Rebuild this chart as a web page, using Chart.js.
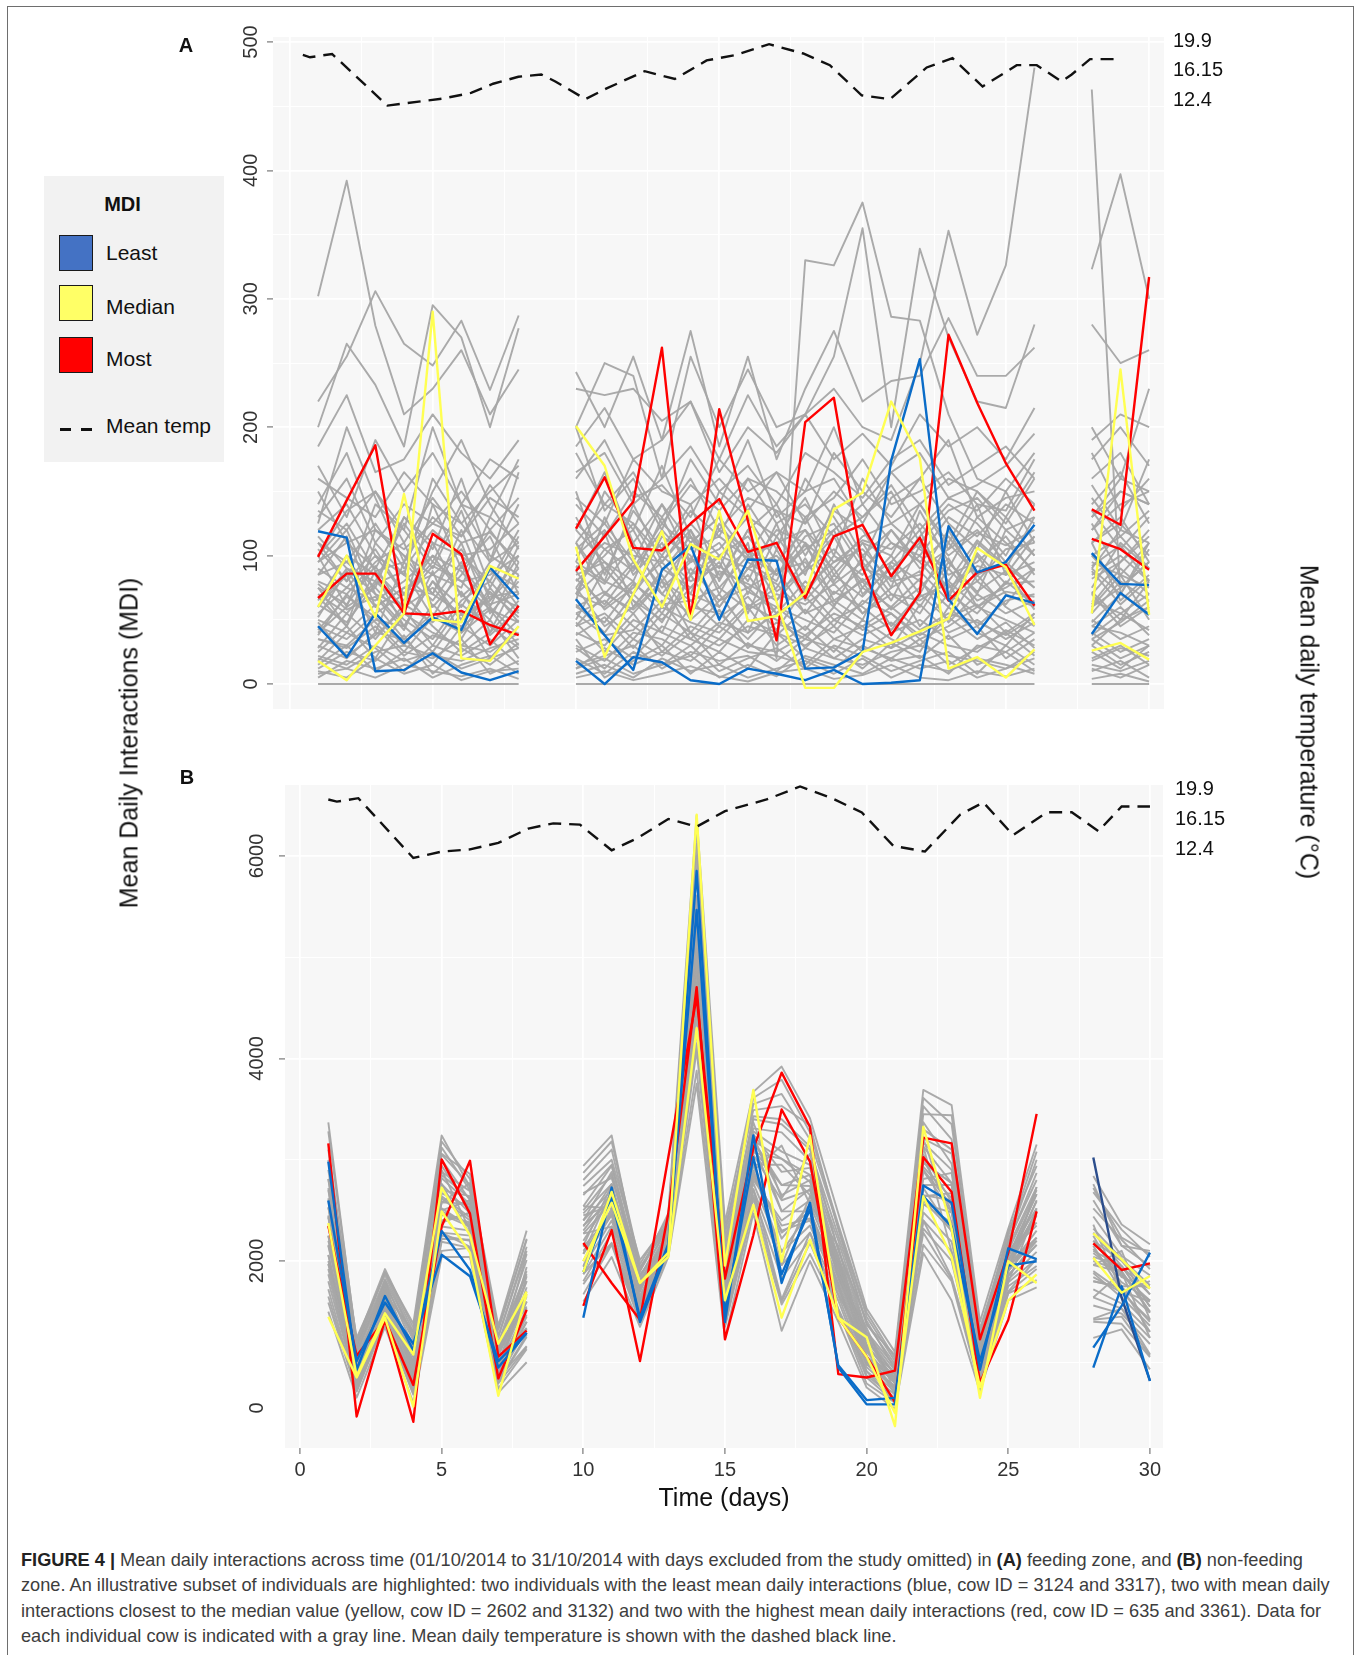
<!DOCTYPE html>
<html><head><meta charset="utf-8">
<script src="https://cdn.jsdelivr.net/npm/chart.js@4.4.0/dist/chart.umd.min.js"></script>
<style>
html,body{margin:0;padding:0;background:#fff;}
body{width:1363px;height:1655px;position:relative;overflow:hidden;font-family:"Liberation Sans",Arial,sans-serif;}
#frame{position:absolute;left:7px;top:6px;width:1347px;height:1700px;border:1px solid #6e6e6e;box-sizing:border-box;}
canvas{position:absolute;left:0;}
#cA{top:0;}
#cB{top:730px;}
.plab{position:absolute;font-weight:bold;font-size:20px;color:#111;transform:translate(-50%,-50%);}
.vtitle{position:absolute;font-size:25px;color:#111;white-space:nowrap;}
#ytitle{left:129px;top:743px;transform:translate(-50%,-50%) rotate(-90deg);}
#y2title{left:1309px;top:722px;transform:translate(-50%,-50%) rotate(90deg);}
#legend{position:absolute;left:44px;top:176px;width:180px;height:286px;background:#f2f2f2;}
#legend .ttl{position:absolute;left:0;width:157px;top:17px;text-align:center;font-weight:bold;font-size:20px;color:#111;}
#legend .sw{position:absolute;left:15px;width:32px;height:34px;border:1.8px solid #1a1a1a;}
#legend .lb{position:absolute;left:62px;font-size:21px;color:#111;transform:translateY(-50%);}
#legend .dash{position:absolute;top:252px;height:3px;width:11px;background:#111;}
#caption{position:absolute;left:21px;top:1548px;font-size:18.2px;line-height:25.3px;color:#3d3d3d;white-space:nowrap;}
#caption b{color:#222;}
</style>
</head>
<body>
<div id="frame"></div>
<canvas id="cA" width="1363" height="730"></canvas>
<canvas id="cB" width="1363" height="800"></canvas>
<div class="plab" style="left:186px;top:45px;">A</div>
<div class="plab" style="left:187px;top:777px;">B</div>
<div class="vtitle" id="ytitle">Mean Daily Interactions (MDI)</div>
<div class="vtitle" id="y2title">Mean daily temperature (°C)</div>
<div id="legend">
  <div class="ttl">MDI</div>
  <div class="sw" style="top:59px;background:#4472c4;"></div><div class="lb" style="top:77px;">Least</div>
  <div class="sw" style="top:109px;background:#ffff66;"></div><div class="lb" style="top:131px;">Median</div>
  <div class="sw" style="top:161px;background:#ff0000;"></div><div class="lb" style="top:183px;">Most</div>
  <div class="dash" style="left:16px;"></div><div class="dash" style="left:37px;"></div>
  <div class="lb" style="top:250px;">Mean temp</div>
</div>
<div id="caption">
<div><b>FIGURE 4 |</b> Mean daily interactions across time (01/10/2014 to 31/10/2014 with days excluded from the study omitted) in <b>(A)</b> feeding zone, and <b>(B)</b> non-feeding</div>
<div>zone. An illustrative subset of individuals are highlighted: two individuals with the least mean daily interactions (blue, cow ID = 3124 and 3317), two with mean daily</div>
<div>interactions closest to the median value (yellow, cow ID = 2602 and 3132) and two with the highest mean daily interactions (red, cow ID = 635 and 3361). Data for</div>
<div>each individual cow is indicated with a gray line. Mean daily temperature is shown with the dashed black line.</div>
</div>
<script>
// ---------------- DATA ----------------
// study days (days 9 and 27 excluded)
const days = [1,2,3,4,5,6,7,8,10,11,12,13,14,15,16,17,18,19,20,21,22,23,24,25,26,28,29,30];

// Axis ticks
const xMajorTicks = [0,5,10,15,20,25,30];
const xMinorTicks = [2.5,7.5,12.5,17.5,22.5,27.5];
const yMajorTicksA = [0,100,200,300,400,500];
const yMinorTicksA = [50,150,250,350,450];
const yMajorTicksB = [2000,4000,6000];
const yMinorTicksB = [1000,3000,5000];
const yZeroLabelValueB = 548;          // where panel B prints its "0" label
const tempTicks = [12.4,16.15,19.9];
const tempTickLabels = ['12.4','16.15','19.9'];

// Panel A (feeding zone) highlighted cows
const redA1    = [99,143,186,55,117,101,31,61, 88,115,142,262,51,214,127,34,204,223,91,38,71,272,219,172,135, 136,124,317];
const redA2    = [67,86,86,55,54,57,46,38, 121,161,106,104,125,144,103,110,67,115,124,84,114,65,87,93,61, 113,105,89];
const blueA1   = [119,114,10,11,24,9,3,10, 66,38,11,89,108,50,97,96,12,13,25,174,253,66,39,69,63, 102,78,77];
const blueA2   = [45,21,55,32,52,42,91,66, 18,0,21,17,3,0,12,8,3,11,0,1,3,123,87,95,124, 39,71,54];
const yellowA1 = [60,100,52,148,50,48,92,82, 201,170,97,60,109,97,135,64,-3,-3,25,32,41,51,106,91,46, 55,245,54];
const yellowA2 = [18,3,30,55,290,20,18,45, 107,21,70,119,50,135,49,53,71,136,149,220,176,12,21,5,27, 26,32,19];

// Panel A other cows (gray)
const grayA = [
 [0,0,0,0,0,0,0,0, 0,0,0,0,0,0,0,0,0,0,0,0,0,0,0,0,0, 0,0,0],
 [8,12,5,15,10,6,12,4, 5,10,3,8,14,6,2,9,12,4,7,15,5,3,10,6,12, 4,8,2],
 [22,15,30,18,25,12,20,28, 15,22,30,12,25,18,22,10,28,20,15,25,30,22,18,12,20, 15,10,18],
 [35,28,45,22,38,30,25,40, 30,18,40,35,22,45,30,25,38,20,35,28,40,30,25,42,30, 35,20,30],
 [50,40,62,35,55,45,60,38, 45,55,35,60,48,40,62,50,38,55,45,60,42,55,48,38,52, 45,60,38],
 [70,55,80,60,75,50,68,72, 60,72,55,80,65,75,58,70,62,78,55,70,65,80,60,72,68, 65,55,70],
 [90,75,100,70,95,80,85,100, 85,95,70,100,80,92,75,88,95,70,90,82,100,75,92,85,95, 85,100,80],
 [110,95,125,90,120,100,105,125, 100,120,90,125,105,115,98,110,120,95,112,105,125,100,118,108,120, 110,125,100],
 [130,160,110,140,125,150,120,145, 140,115,150,130,160,120,145,135,125,150,130,155,120,145,135,160,140, 130,150,140],
 [185,225,165,175,210,180,160,190, 185,215,175,190,220,165,200,180,210,175,195,170,210,185,200,175,215, 190,210,200],
 [302,392,279,210,230,260,210,245, 243,200,255,190,275,185,255,175,230,275,220,236,240,285,240,240,262, 280,250,260],
 [220,255,306,265,248,283,229,287, 200,250,240,160,255,200,245,200,210,230,200,190,250,353,272,326,480, 463,70,110],
 [200,265,233,185,295,270,200,277, 230,225,230,205,220,175,225,185,210,255,355,200,339,270,220,215,280, 323,397,300],
 [60,85,40,95,70,110,55,80, 110,70,95,60,120,85,105,65,90,115,75,100,70,110,85,95,75, 90,70,105],
 [95,120,70,60,140,90,115,70, 65,130,85,110,70,125,95,80,130,85,110,75,135,95,70,120,100, 70,95,120],
 [40,60,75,50,35,65,80,55, 75,45,60,85,50,70,40,90,55,65,80,45,70,50,85,60,45, 60,85,50],
 [25,45,20,55,40,30,50,20, 40,30,55,25,45,35,60,30,45,25,50,35,25,60,40,30,55, 50,35,45],
 [150,110,90,130,105,160,95,140, 120,165,110,140,95,150,130,115,145,100,160,125,140,110,150,130,165, 155,120,175],
 [15,30,10,25,20,35,8,18, 20,8,25,15,30,10,20,28,12,30,22,10,18,25,8,30,15, 25,12,30],
 [80,70,95,110,60,85,120,90, 130,90,105,75,95,110,80,125,70,100,85,120,95,70,110,90,130, 100,75,95],
 [120,140,100,85,160,125,95,165, 95,150,120,170,115,90,140,105,160,130,95,145,160,125,105,150,110, 140,165,125],
 [45,35,55,70,45,25,40,65, 55,65,45,30,60,55,35,60,50,40,65,55,35,45,60,50,40, 30,50,60],
 [65,100,85,45,80,60,95,110, 80,100,125,90,75,100,115,85,105,120,70,90,110,85,95,115,85, 75,110,90],
 [105,80,140,120,90,135,75,115, 150,85,135,105,140,80,120,140,100,135,120,85,115,140,125,100,140, 120,140,150],
 [170,130,190,150,180,140,175,160, 165,180,140,160,185,150,170,140,180,165,145,175,190,155,170,185,160, 175,200,170],
 [30,20,40,35,15,45,30,50, 25,35,20,45,35,25,50,40,30,45,25,40,50,35,45,20,35, 40,25,35],
 [55,75,65,80,100,70,50,95, 70,60,80,55,90,65,75,55,80,60,100,70,55,90,65,75,90, 55,80,65],
 [140,180,120,105,125,115,145,130, 180,140,165,125,155,135,160,150,130,145,175,140,150,165,140,135,175, 160,180,140],
 [10,5,20,8,15,3,10,12, 8,15,5,20,10,15,5,12,18,8,20,5,15,10,20,15,8, 10,18,5],
 [85,115,60,75,85,105,70,60, 95,80,70,115,100,60,90,100,75,95,105,80,85,120,80,105,110, 95,85,75],
 [60,90,70,45,80,50,90,60, 110,80,140,95,120,70,110,20,330,326,375,286,283,210,160,150,180, 120,150,140],
 [100,135,150,120,200,140,130,175, 200,135,160,120,175,140,190,130,150,200,140,165,180,145,155,170,195, 200,160,230],
 [125,200,145,95,150,190,140,105, 160,190,145,155,130,175,150,165,125,180,150,130,160,190,130,145,150, 180,135,160],
 [75,45,110,85,65,95,40,85, 50,90,65,40,85,100,60,75,110,65,50,95,80,60,100,70,60, 110,65,85],
 [18,40,28,10,30,22,35,15, 35,5,18,30,8,25,12,40,20,12,30,18,22,8,30,25,10, 20,30,15],
 [100,60,120,100,70,120,65,100, 125,105,120,80,110,130,70,115,85,140,100,120,90,105,140,85,115, 90,120,110],
 [28,55,35,62,48,72,38,58, 62,40,70,48,85,52,68,42,75,50,62,85,45,70,55,80,62, 48,70,55],
 [75,62,92,55,110,68,88,75, 92,78,110,70,98,82,120,72,88,105,80,95,120,68,102,78,105, 82,95,115],
 [12,25,18,38,8,28,15,32, 28,12,35,22,40,15,32,18,35,28,12,32,20,38,15,25,40, 18,28,22],
 [115,90,80,125,95,140,100,85, 105,125,95,140,110,130,100,135,90,120,140,110,100,130,115,140,125, 135,105,130],
 [42,68,52,30,62,40,75,48, 45,70,58,80,40,65,85,55,68,45,75,60,82,48,70,55,65, 72,50,80],
 [62,48,78,88,52,92,62,70, 88,58,75,95,70,60,90,78,55,85,68,92,60,95,72,88,58, 62,90,70],
 [95,110,120,100,85,75,130,110, 75,105,88,120,95,105,130,95,120,80,110,100,140,105,120,95,115, 110,130,95],
 [20,12,25,30,22,18,28,35, 12,28,15,25,18,35,25,22,15,35,28,20,35,15,28,40,22, 30,15,25],
 [52,88,60,75,70,55,65,90, 70,90,65,50,75,95,55,105,65,90,55,75,88,65,80,62,90, 60,75,95],
 [135,120,150,110,145,115,155,125, 110,140,125,100,135,115,160,125,140,115,130,150,110,135,145,120,130, 145,115,135],
 [35,30,50,45,25,55,20,45, 48,25,50,40,30,48,40,55,28,50,38,48,30,52,35,48,28, 45,40,30],
 [85,95,75,130,110,100,80,120, 120,95,80,130,85,120,105,85,115,125,90,110,95,115,85,130,100, 125,85,110],
 [5,18,12,20,5,15,22,8, 12,20,8,15,22,5,15,6,22,15,8,20,12,18,5,12,25, 12,5,15],
 [68,45,88,65,92,80,58,48, 82,62,92,70,55,88,78,65,98,62,82,58,75,98,60,78,80, 88,62,82],
 [100,125,88,95,130,110,118,95, 90,110,100,95,125,100,90,120,110,90,115,125,105,90,130,110,88, 100,115,90],
 [48,22,38,58,30,62,45,28, 38,52,28,55,40,30,45,38,58,35,45,28,62,40,50,35,48, 38,55,42],
 [160,145,130,165,140,125,150,170, 145,125,175,150,140,160,135,165,150,160,125,165,140,160,150,125,160, 130,160,150],
 [78,58,68,42,88,35,72,52, 60,48,78,62,65,45,72,60,42,72,60,42,68,78,45,65,70, 70,45,60],
 [110,80,105,70,100,88,60,108, 70,118,60,88,115,75,100,85,108,78,95,65,108,80,112,92,75, 92,108,80],
 [38,70,48,25,52,40,58,30, 55,38,42,65,35,58,28,48,35,60,42,55,38,52,62,40,55, 35,48,65]
];

// Panel B (non-feeding zone) highlighted cows
const redB1    = [3162,464,1419,412,3003,2468,840,1517, 1556,2305,1012,2468,4704,1226,2254,3496,2982,1440,1055,605,3025,2682,798,1419,2490, 2174,1911,1977];
const redB2    = [2348,1063,1419,776,2340,2990,1055,1312, 2177,1783,1419,3025,4610,1826,3111,3860,3325,883,849,918,3218,3162,1226,2082,3453, null,null,null];
const blueB1   = [2982,926,1654,1119,2297,1911,947,1290, 1440,2725,1397,2125,5852,1397,3239,1783,2575,948,584,584,2746,2575,926,2125,2018, 946,1750,815];
const blueB2   = [2597,1012,1590,1183,2061,1850,1012,1290, 1890,2618,1440,2168,5466,1483,3025,1868,2511,969,626,648,2639,2339,1012,1954,1997, 1144,1556,2082];
const navyDaysB = [28,29,30];
const navyB    = [3021,1638,815];
const yellowB1 = [2374,862,1483,1076,2725,2254,1183,1697, 1890,2682,1783,2082,6408,1954,3689,1995,3239,1440,1247,369,3325,2318,648,1997,1783, 2273,2016,1727];
const yellowB2 = [1449,849,1440,562,2489,2082,669,1676, 1997,2575,1783,2040,4300,1611,2554,1440,2211,1440,1055,498,2639,2040,755,1611,1868, 2033,1687,1852];

// Panel B other cows (gray)
const grayB = [
 [3280,1210,1920,1340,3180,2810,1360,2300, 2870,3180,1970,2430,6270,2270,3610,3790,3270,2360,1490,1040,3610,3350,1330,2250,3080, 2680,2310,2040],
 [3000,1240,1860,1260,3060,2860,1260,2140, 2740,3000,2010,2380,6000,2320,3490,3530,3340,2310,1370,1070,3450,3440,1260,2290,2940, 2760,2150,2100],
 [2810,1120,1770,1220,2880,2690,1190,2010, 2540,2940,1830,2360,5600,2090,3310,3270,2990,2200,1300,960,3210,3060,1190,2140,2730, 2440,2050,1860],
 [2620,1080,1740,1090,2820,2560,1160,1800, 2470,2760,1800,2300,5470,1920,3250,2880,2920,2040,1260,880,3130,2770,1160,2040,2660, 2200,2000,1670],
 [2530,1020,1650,1130,2700,2640,1050,1800, 2340,2760,1700,2320,5210,1920,3070,3010,2780,2040,1140,900,2970,2770,1060,2070,2520, 2200,1840,1730],
 [2340,960,1680,970,2640,2430,1090,1600, 2270,2580,1730,2230,5080,1750,3130,2490,2710,1880,1180,790,2890,2480,1090,1930,2450, 1960,1890,1490],
 [2250,870,1620,930,2520,2340,980,1600, 2140,2460,1630,2230,4810,1630,2950,2220,2560,1880,1060,740,2720,2290,990,1930,2300, 1800,1740,1490],
 [2060,900,1560,850,2460,2380,910,1470, 2000,2520,1590,2170,4680,1690,2830,2350,2420,1780,980,760,2560,2380,920,1860,2160, 1880,1640,1360],
 [1970,840,1500,850,2340,2300,880,1400, 1940,2400,1520,2170,4410,1580,2770,2090,2350,1720,950,710,2480,2190,880,1820,2090, 1720,1580,1300],
 [1870,770,1440,760,2220,2210,810,1270, 1800,2280,1450,2130,4150,1460,2650,1830,2210,1610,870,650,2320,2000,810,1750,1950, 1560,1480,1180],
 [1590,710,1400,680,2100,2130,740,1130, 1670,2160,1390,2080,3880,1350,2530,1570,2070,1510,790,600,2160,1800,750,1680,1810, 1400,1380,1050],
 [2720,840,1710,1050,2940,2510,1120,1670, 2400,2880,1760,2280,5340,1810,3190,2750,2850,1940,1220,820,3050,2580,1120,2000,2590, 2040,1950,1550],
 [2160,1020,1530,1170,2580,2560,950,1940, 2200,2640,1560,2260,4940,1980,2890,3140,2560,2150,1020,850,2810,2870,950,2110,2380, 2360,1690,1800],
 [2440,930,1800,890,2760,2260,1190,1540, 2540,2520,1870,2190,5610,1690,3370,2620,3060,1830,1340,710,3210,2380,1230,1890,2730, 1960,2100,1420],
 [1970,990,1590,1010,2400,2470,1020,1340, 2070,2700,1660,2210,4550,1860,3010,1960,2640,1990,1100,790,2640,2670,1020,1970,2230, 2120,1790,1610],
 [1720,720,1470,700,2280,2140,840,1160, 1870,2180,1490,2090,4280,1370,2710,1620,2280,1530,910,610,2400,1840,850,1700,2020, 1430,1530,1080],
 [2530,1050,1680,1300,3000,2600,1090,2070, 2670,2820,1940,2340,5870,2040,3430,3400,3130,2100,1410,930,3370,2960,1300,2180,2870, 2520,2210,1920],
 [2250,960,1740,970,2580,2770,910,1740, 2270,2340,1800,2150,5080,1520,3250,2490,2490,1670,1140,680,3130,2090,1090,1790,2520, 1640,1890,1240],
 [3370,1180,1890,1380,3240,2730,1330,2210, 2940,3240,1900,2470,6400,2380,3670,3920,3410,2470,1530,1100,3690,3540,1400,2320,3150, 2840,2360,2165],
 [1500,650,1350,600,2040,2040,700,1000, 1600,2040,1350,2040,3750,1230,2470,1310,2000,1400,750,540,2080,1610,710,1610,1740, 1240,1325,930],
 [2060,810,1560,810,2460,2340,880,1400, 2000,2460,1490,2210,4680,1580,2890,2090,2490,1780,980,760,2560,2480,920,1860,2160, 1800,1740,1300],
 [2810,990,1620,1090,2760,2470,1160,1870, 2400,2700,1700,2300,5470,1860,3190,3010,2850,1990,1220,880,2970,2770,1160,2040,2660, 2280,1950,1670],
 [3100,1150,1890,1300,3120,2700,1320,2220, 2800,3100,1920,2400,6120,2200,3550,3650,3200,2330,1450,1010,3530,3200,1290,2200,3000, 2720,2230,2070],
 [2700,1100,1800,1150,2850,2620,1180,1900, 2500,2850,1850,2330,5540,2000,3280,3080,2950,2120,1280,920,3170,2900,1180,2100,2700, 2320,2020,1760],
 [2430,1000,1660,1050,2670,2530,1070,1700, 2300,2670,1720,2270,5150,1840,3100,2750,2740,1960,1160,850,2930,2620,1080,2000,2480, 2080,1860,1610],
 [2150,880,1590,890,2490,2360,950,1530, 2070,2490,1610,2200,4750,1660,2890,2280,2490,1830,1020,750,2640,2330,950,1900,2230, 1840,1690,1420],
 [1920,800,1470,800,2280,2250,840,1330, 1870,2340,1480,2150,4280,1520,2710,1960,2280,1660,910,680,2400,2090,850,1790,2020, 1640,1530,1240],
 [1650,715,1430,690,2190,2130,790,1150, 1770,2170,1440,2085,4080,1360,2620,1600,2180,1520,850,605,2280,1820,800,1690,1920, 1420,1450,1065],
 [2900,1150,1820,1250,3050,2750,1250,2100, 2100,2450,1550,2180,4500,1600,2850,2300,2400,1750,1000,730,2600,2300,940,1850,2200, 1900,1700,1400],
 [1800,760,1450,740,2250,2200,800,1250, 2650,2950,1900,2380,5800,2150,3400,3350,3100,2250,1380,980,3300,3100,1250,2200,2800, 2600,2150,1950],
 [2600,900,1750,950,2900,2300,1150,1550, 2350,2600,1800,2240,5250,1700,3200,2650,2800,1900,1250,800,3000,2500,1150,1950,2600, 2100,1950,1550],
 [2200,1050,1560,1150,2500,2600,900,1850, 2150,2750,1600,2300,4900,1950,2950,2950,2650,2050,1050,880,2750,2750,980,2080,2350, 2250,1750,1750],
 [2450,820,1700,870,2620,2400,1000,1650, 2450,2550,1750,2250,5000,1780,3050,2600,2700,1850,1120,790,2900,2550,1050,1950,2500, 2000,1900,1500],
 [2000,940,1520,1000,2380,2480,880,1450, 1950,2620,1560,2200,4600,1750,2800,2400,2600,1950,1000,820,2650,2600,960,1950,2200, 2150,1700,1600]
];

// Mean daily temperature (°C), as drawn in each panel
const tempDaysA = [0.47,0.72,1.49,3.42,5.36,6.34,7.11,7.99,8.79,9.28,10.33,11.07,12.4,13.45,14.56,15.6,16.74,17.93,18.86,19.97,20.96,22.24,23.14,24.19,25.38,26.08,26.95,27.3,27.94,28.92];
const tempA     = [18.18,17.87,18.29,11.74,12.63,13.35,14.51,15.4,15.69,14.8,12.56,13.92,16.11,15.11,17.47,18.18,19.53,18.35,16.87,13.04,12.56,16.58,17.76,14.16,16.87,16.87,14.8,15.69,17.64,17.64];
const tempDaysB = [1.0,1.3,2.06,4.0,5.0,6.0,7.0,8.06,8.94,9.88,11.0,11.94,13.0,14.0,15.0,16.47,17.65,18.77,19.83,20.94,22.06,23.3,24.12,25.17,26.36,27.24,28.18,29.0,30.0];
const tempB     = [18.63,18.36,18.79,11.35,12.15,12.42,13.23,15.01,15.66,15.5,12.31,13.88,16.21,15.24,17.18,18.63,20.25,18.79,17.01,12.86,12.15,16.74,18.26,14.19,17.04,17.04,14.69,17.76,17.76];

const xTitle = 'Time (days)';

// ---------------- STYLE ----------------
const FONT = '"Liberation Sans", Arial, sans-serif';
const C = {gray:'rgba(165,165,165,0.95)', red:'#ff0000', blue:'#0a6cc8', yellow:'#ffff52', navy:'#2b4d8c', panel:'#f7f7f7'};

function pts(dd, vals){
  const out=[];
  for(let i=0;i<dd.length;i++){
    if(i>0 && dd[i]-dd[i-1]>1.5) out.push({x:dd[i-1]+1, y:null});
    out.push({x:dd[i], y:vals[i]});
  }
  return out;
}
function line(dd, vals, color, w, order){
  return {data:pts(dd,vals), borderColor:color, borderWidth:w, pointRadius:0, fill:false,
    spanGaps:false, tension:0, order:order, yAxisID:'y', borderJoinStyle:'round'};
}
function tempLine(dd, vals){
  return {data:dd.map((d,i)=>({x:d,y:vals[i]})), borderColor:'#111', borderWidth:2.4, borderDash:[13,8],
    pointRadius:0, fill:false, tension:0, order:0, yAxisID:'y2'};
}

const panelBg = {id:'panelBg', beforeDraw(ch){const a=ch.chartArea, g=ch.ctx; g.save(); g.fillStyle=C.panel; g.fillRect(a.left,a.top,a.right-a.left,a.bottom-a.top); g.restore();}};

function yLabelPlugin(majors, offset, extra){
  return {id:'yLab', afterDraw(ch){
    const s=ch.scales.y, g=ch.ctx, x=ch.chartArea.left-offset;
    const items = majors.map(v=>({v, t:String(v)})).concat(extra||[]);
    g.save(); g.font='20px '+FONT; g.fillStyle='#333'; g.textAlign='center'; g.textBaseline='middle';
    items.forEach(it=>{const y=s.getPixelForValue(it.v); g.save(); g.translate(x,y); g.rotate(-Math.PI/2); g.fillText(it.t,0,1); g.restore();});
    g.restore();
  }};
}

function gridScale(majors, minors, extraHidden, showTickMarks){
  const hidden = extraHidden||[];
  const all=[...majors, ...minors, ...hidden].sort((a,b)=>a-b);
  return {
    afterBuildTicks(s){ s.ticks = all.map(v=>({value:v})); },
    grid:{
      color:(c)=> hidden.includes(c.tick && c.tick.value) ? 'rgba(0,0,0,0)' : '#ffffff',
      lineWidth:(c)=> majors.includes(c.tick && c.tick.value) ? 1.7 : 0.9,
      tickColor:(c)=> (showTickMarks && majors.includes(c.tick && c.tick.value)) ? '#a0a0a0' : 'rgba(0,0,0,0)',
      tickLength:6, drawTicks:showTickMarks
    },
    border:{display:false}
  };
}

function makeChart(id, cfg){
  const xs = gridScale(xMajorTicks, xMinorTicks, [], cfg.showX);
  const ys = gridScale(cfg.yMajors, cfg.yMinors, cfg.yHidden, true);
  return new Chart(document.getElementById(id), {
    type:'line',
    data:{datasets:cfg.datasets},
    options:{
      responsive:false, animation:false, events:[],
      layout:{padding:cfg.padding},
      plugins:{legend:{display:false}, tooltip:{enabled:false}},
      scales:{
        x:Object.assign(xs,{type:'linear', min:cfg.xMin, max:cfg.xMax,
          afterFit(s){s.height=cfg.xHeight;},
          ticks:{display:cfg.showX, autoSkip:false, maxRotation:0, minRotation:0, padding:4,
            font:{family:FONT,size:20}, color:'#333',
            callback:(v)=> xMajorTicks.includes(v) ? String(v) : ''},
          title: cfg.showX ? {display:true, text:xTitle, color:'#111', font:{family:FONT,size:25}, padding:{top:0,bottom:4}} : {display:false}
        }),
        y:Object.assign(ys,{type:'linear', position:'left', min:cfg.yMin, max:cfg.yMax,
          afterFit(s){s.width=10;}, ticks:{display:false}}),
        y2:{type:'linear', position:'right', min:cfg.tMin, max:cfg.tMax,
          afterBuildTicks(s){ s.ticks = tempTicks.map(v=>({value:v})); },
          afterFit(s){s.width=100;},
          grid:{display:false, drawOnChartArea:false, drawTicks:false},
          border:{display:false},
          ticks:{padding:cfg.tPad, font:{family:FONT,size:20}, color:'#111',
            callback:(v,i)=> tempTickLabels[i]}
        }
      }
    },
    plugins:[panelBg, cfg.labelPlugin]
  });
}

// ---------------- PANEL A ----------------
const dsA = [tempLine(tempDaysA, tempA)];
[[yellowA1,C.yellow],[yellowA2,C.yellow],[blueA1,C.blue],[blueA2,C.blue],[redA1,C.red],[redA2,C.red]]
  .forEach(([v,c])=>dsA.push(line(days,v,c,2.4,1)));
grayA.forEach(v=>dsA.push(line(days,v,C.gray,1.9,2)));

makeChart('cA', {
  datasets:dsA, padding:{left:263, top:37, right:99, bottom:20},
  xMin:-0.572, xMax:30.52, xHeight:0, showX:false,
  yMin:-19.44, yMax:503.9, yMajors:yMajorTicksA, yMinors:yMinorTicksA, yHidden:[],
  tMin:-64.85, tMax:20.445, tPad:9,
  labelPlugin:yLabelPlugin(yMajorTicksA, 23)
});

// ---------------- PANEL B ----------------
const dsB = [tempLine(tempDaysB, tempB)];
[[yellowB1,C.yellow],[yellowB2,C.yellow],[blueB1,C.blue],[blueB2,C.blue],[redB1,C.red],[redB2,C.red]]
  .forEach(([v,c])=>dsB.push(line(days,v,c,2.4,1)));
dsB.push(line(navyDaysB, navyB, C.navy, 2.4, 1));
grayB.forEach(v=>dsB.push(line(days,v,C.gray,1.9,2)));

makeChart('cB', {
  datasets:dsB, padding:{left:275, top:55, right:100, bottom:12},
  xMin:-0.529, xMax:30.46, xHeight:70, showX:true,
  yMin:153, yMax:6701, yMajors:yMajorTicksB, yMinors:yMinorTicksB, yHidden:[yZeroLabelValueB],
  tMin:-62.03, tMax:20.43, tPad:12,
  labelPlugin:yLabelPlugin(yMajorTicksB, 29, [{v:yZeroLabelValueB, t:'0'}])
});
</script>
</body></html>
